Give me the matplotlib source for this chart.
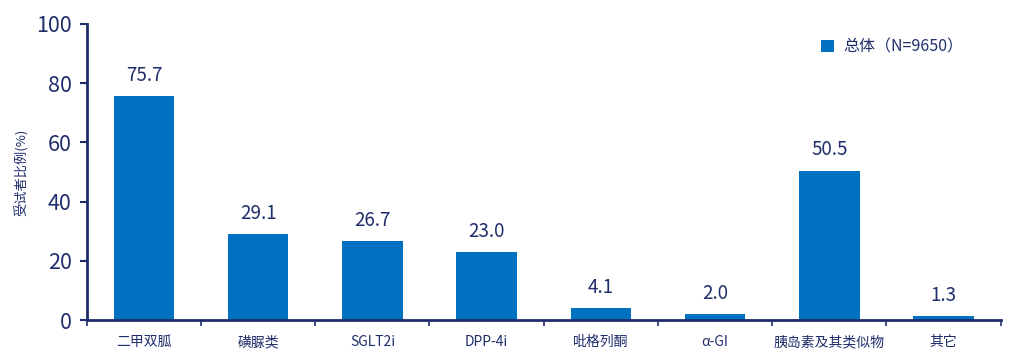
import matplotlib
matplotlib.use("Agg")
import matplotlib.pyplot as plt
import numpy as np

plt.rcParams['font.family'] = ['Noto Sans CJK SC', 'DejaVu Sans']

categorias = ["二甲双胍", "磺脲类", "SGLT2i", "DPP-4i", "吡格列酮", "α-GI", "胰岛素及其类似物", "其它"]
valores = [75.7, 29.1, 26.7, 23.0, 4.1, 2.0, 50.5, 1.3]
etiqueta_serie = "总体（N=9650）"

azul = "#0070C0"
marino = "#1F2D6B"

fig = plt.figure(figsize=(10.21, 3.58), dpi=100)
ax = fig.add_axes([0.085, 0.106, 0.895, 0.827])

x = np.arange(len(categorias))
barras = ax.bar(x, valores, width=0.53, color=azul, label=etiqueta_serie)

for xi, v in zip(x, valores):
    ax.text(xi, v + 3.5, f"{v:.1f}", ha="center", va="bottom", fontsize=13.5, color=marino)

ax.set_xlim(-0.5, len(categorias) - 0.5)
ax.set_ylim(0, 100)
ax.set_yticks(range(0, 101, 20))
ax.tick_params(axis="y", labelsize=15.5, colors=marino, length=5, width=1.5, direction="out", pad=6)
ax.set_xticks(x)
ax.set_xticklabels(categorias, fontsize=10, color=marino)
ax.tick_params(axis="x", length=0, pad=11)
# separadores del eje x
ax.set_xticks(np.arange(-0.5, len(categorias)), minor=True)
ax.tick_params(axis="x", which="minor", length=4, width=1.2, color=marino)

ax.set_ylabel("受试者比例(%)", fontsize=9.5, color=marino, labelpad=5)

for lado in ["top", "right"]:
    ax.spines[lado].set_visible(False)
for lado in ["left", "bottom"]:
    ax.spines[lado].set_color(marino)
    ax.spines[lado].set_linewidth(2)

ax.legend(loc="upper right", bbox_to_anchor=(0.975, 1.0), frameon=False, fontsize=11.5,
          handlelength=0.8, handleheight=0.8, handletextpad=0.6, labelcolor=marino)

fig.savefig("out.png", dpi=100)
